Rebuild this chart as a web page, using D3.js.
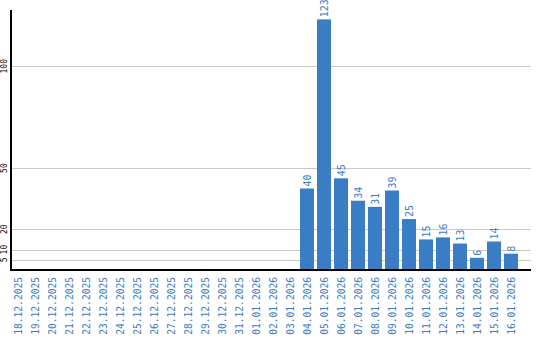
<!DOCTYPE html>
<html>
<head>
<meta charset="utf-8">
<script src="https://cdn.jsdelivr.net/npm/d3@7"></script>
<style>
  body { margin: 0; background: #fff; }
</style>
</head>
<body>
<svg id="chart" width="540" height="340"></svg>
<script>
var dates = ["18.12.2025", "19.12.2025", "20.12.2025", "21.12.2025", "22.12.2025", "23.12.2025",
    "24.12.2025", "25.12.2025", "26.12.2025", "27.12.2025", "28.12.2025", "29.12.2025",
    "30.12.2025", "31.12.2025", "01.01.2026", "02.01.2026", "03.01.2026", "04.01.2026",
    "05.01.2026", "06.01.2026", "07.01.2026", "08.01.2026", "09.01.2026", "10.01.2026",
    "11.01.2026", "12.01.2026", "13.01.2026", "14.01.2026", "15.01.2026", "16.01.2026"]
var counts = [0, 0, 0, 0, 0, 0, 0, 0, 0, 0, 0, 0, 0, 0, 0, 0, 0,
    40, 123, 45, 34, 31, 39, 25, 15, 16, 13, 6, 14, 8]
var yTicks = [5, 10, 20, 50, 100]

var blue = "#3a7dc4"

var dims = {
    width: 540,
    height: 340,
    left: 11,
    right: 531,
    top: 10,
    base: 270
}

var data = dates.map(function (d, i) { return {date: d, value: counts[i]} })

var svg = d3.select("#chart")

var xScale = d3.scaleBand()
    .domain(dates)
    .range([dims.left, dims.left + 30 * 17 - 3])
    .paddingInner(3 / 17)
    .paddingOuter(0)

var yScale = d3.scaleLinear()
    .domain([0, 127.6])
    .range([dims.base, dims.top])

// grid lines
svg.append("g")
    .selectAll("line")
    .data(yTicks)
    .enter()
    .append("line")
    .attr("x1", dims.left)
    .attr("x2", dims.right)
    .attr("y1", d => Math.round(yScale(d)) + 0.5)
    .attr("y2", d => Math.round(yScale(d)) + 0.5)
    .attr("stroke", "#c8c8c8")
    .attr("stroke-width", 1)

// y tick labels
svg.append("g")
    .selectAll("text")
    .data(yTicks)
    .enter()
    .append("text")
    .attr("transform", d => "translate(7," + yScale(d) + ") rotate(-90)")
    .attr("text-anchor", "middle")
    .style("font-family", "DejaVu Sans Mono")
    .style("font-size", "8px")
    .attr("fill", "#000")
    .text(d => d)

// bars
svg.append("g")
    .selectAll("rect")
    .data(data.filter(d => d.value > 0))
    .enter()
    .append("rect")
    .attr("x", d => xScale(d.date))
    .attr("y", d => yScale(d.value))
    .attr("width", xScale.bandwidth())
    .attr("height", d => yScale(0) - yScale(d.value))
    .attr("fill", blue)

// value labels
svg.append("g")
    .selectAll("text")
    .data(data.filter(d => d.value > 0))
    .enter()
    .append("text")
    .attr("transform", d => "translate(" + (xScale(d.date) + xScale.bandwidth() / 2) + "," + (yScale(d.value) - 2) + ") rotate(-90)")
    .attr("dy", "0.35em")
    .attr("text-anchor", "start")
    .style("font-family", "DejaVu Sans Mono")
    .style("font-size", "10px")
    .attr("fill", blue)
    .text(d => d.value)

// x labels
svg.append("g")
    .selectAll("text")
    .data(dates)
    .enter()
    .append("text")
    .attr("transform", d => "translate(" + (xScale(d) + xScale.bandwidth() / 2 + 1) + ",277) rotate(-90)")
    .attr("dy", "0.35em")
    .attr("text-anchor", "end")
    .style("font-family", "DejaVu Sans Mono")
    .style("font-size", "9.6px")
    .attr("fill", blue)
    .text(d => d)

// axes
svg.append("line")
    .attr("x1", 11).attr("x2", 11)
    .attr("y1", dims.top).attr("y2", dims.base + 1)
    .attr("stroke", "#000")
    .attr("stroke-width", 2)

svg.append("line")
    .attr("x1", 10).attr("x2", dims.right)
    .attr("y1", dims.base).attr("y2", dims.base)
    .attr("stroke", "#000")
    .attr("stroke-width", 2)
</script>
</body>
</html>
